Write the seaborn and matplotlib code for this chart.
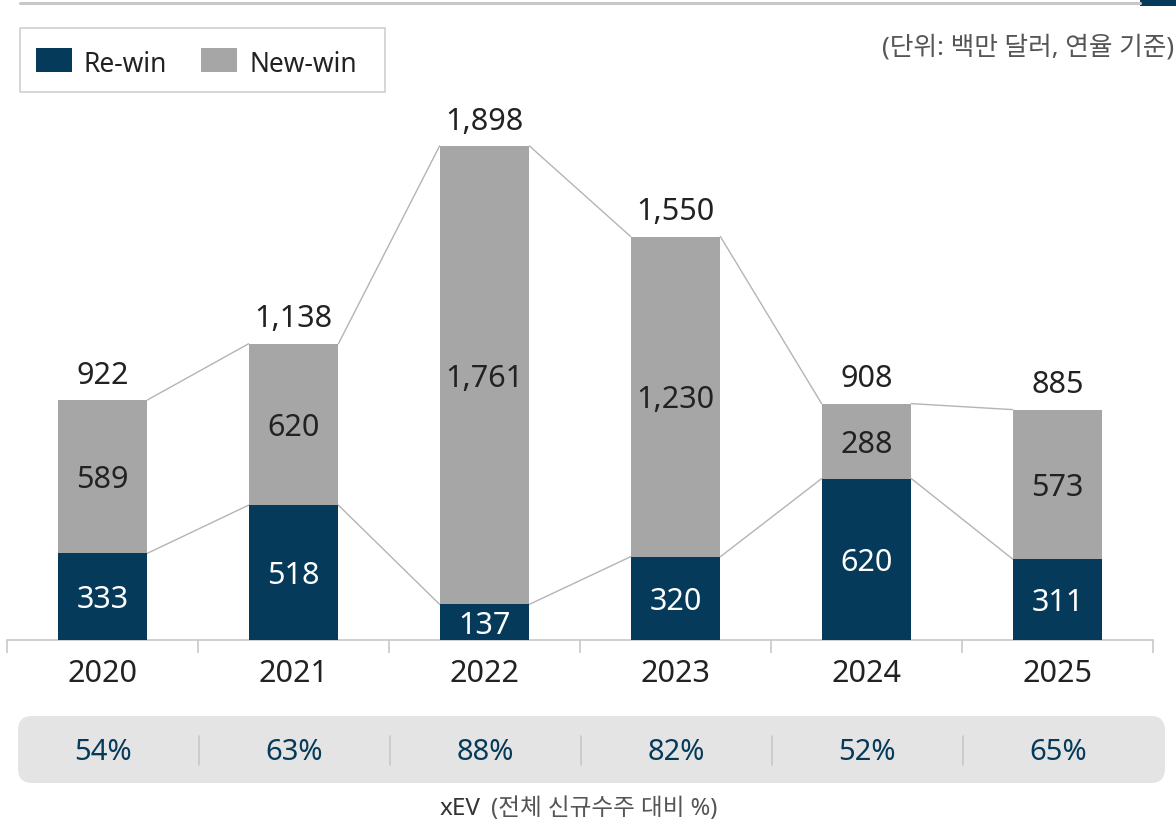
import matplotlib
matplotlib.use("Agg")
import matplotlib.pyplot as plt
from matplotlib.patches import FancyBboxPatch, Rectangle
import seaborn as sns
import pandas as pd
import numpy as np

years = ["2020", "2021", "2022", "2023", "2024", "2025"]
re_win = [333, 518, 137, 320, 620, 311]
new_win = [589, 620, 1761, 1230, 288, 573]
totals = [922, 1138, 1898, 1550, 908, 885]
xev_share = ["54%", "63%", "88%", "82%", "52%", "65%"]

NAVY = "#053A5A"
GRAY = "#A6A6A6"
LINE = "#B4B4B4"
TXT = "#222222"

sns.set_theme(style="white")
plt.rcParams['font.family'] = ['Noto Sans', 'Noto Sans CJK KR', 'DejaVu Sans']

df = pd.DataFrame({"year": years, "re": re_win, "new": new_win, "total": totals})

W, H = 1176, 823
fig = plt.figure(figsize=(W / 100, H / 100), dpi=100)
ax = fig.add_axes([7 / W, 1 - 640 / H, (1153 - 7) / W, 572.7 / H])

bw = 0.47
sns.barplot(data=df, x="year", y="total", color=GRAY, width=bw, saturation=1,
            ax=ax, linewidth=0, zorder=2)
sns.barplot(data=df, x="year", y="re", color=NAVY, width=bw, saturation=1,
            ax=ax, linewidth=0, zorder=3)

ax.set_xlim(-0.5, len(years) - 0.5)
ax.set_ylim(0, 2200)
ax.set_xlabel("")
ax.set_ylabel("")
ax.set_yticks([])
for s in ["top", "right", "left"]:
    ax.spines[s].set_visible(False)
ax.spines["bottom"].set_color("#C8C8C8")
ax.spines["bottom"].set_linewidth(1.2)
ax.set_xticks(np.arange(-0.5, len(years)), minor=True)
ax.tick_params(axis="x", which="minor", length=9, color="#C8C8C8", width=1.2, bottom=True)
ax.tick_params(axis="x", which="major", length=0, labelsize=22, labelcolor=TXT, pad=14)

# connector lines
x = np.arange(len(years))
for i in range(len(years) - 1):
    ax.plot([x[i] + bw / 2, x[i + 1] - bw / 2], [totals[i], totals[i + 1]],
            color=LINE, lw=1.0, zorder=1)
    ax.plot([x[i] + bw / 2, x[i + 1] - bw / 2], [re_win[i], re_win[i + 1]],
            color=LINE, lw=1.0, zorder=1)

FS = 22
for i in range(len(years)):
    ax.text(x[i], re_win[i] / 2, f"{re_win[i]:,}", ha="center", va="center_baseline",
            color="white", fontsize=FS, zorder=5)
    ax.text(x[i], re_win[i] + new_win[i] / 2, f"{new_win[i]:,}", ha="center",
            va="center_baseline", color=TXT, fontsize=FS, zorder=5)
    ax.annotate(f"{totals[i]:,}", (x[i], totals[i]), xytext=(0, 20),
                textcoords="offset points", ha="center", va="center_baseline",
                color=TXT, fontsize=FS, zorder=5)

# top rule
fig.add_artist(plt.Line2D([20 / W, 1140 / W], [1 - 3 / H, 1 - 3 / H],
                          color="#C8C8C8", lw=2.2, transform=fig.transFigure))
fig.add_artist(Rectangle((1140 / W, 1 - 6 / H), 36 / W, 6 / H, color=NAVY,
                         transform=fig.transFigure, lw=0))

# legend box
fig.add_artist(Rectangle((20 / W, 1 - 92 / H), 365 / W, 64 / H, facecolor="white",
                         edgecolor="#D0D0D0", lw=1.2, transform=fig.transFigure))
fig.add_artist(Rectangle((36 / W, 1 - 72 / H), 36 / W, 24 / H, color=NAVY, lw=0,
                         transform=fig.transFigure))
fig.text(84 / W, 1 - 61 / H, "Re-win", fontsize=19, color=TXT, va="center_baseline", ha="left")
fig.add_artist(Rectangle((201 / W, 1 - 72 / H), 36 / W, 24 / H, color=GRAY, lw=0,
                         transform=fig.transFigure))
fig.text(250 / W, 1 - 61 / H, "New-win", fontsize=19, color=TXT, va="center_baseline", ha="left")

# unit text
fig.text(1174 / W, 1 - 48 / H, "(단위: 백만 달러, 연율 기준)", fontsize=18.5,
         color="#555555", ha="right", va="center")

# percent band
fig.add_artist(FancyBboxPatch((18 / W, 1 - 783 / H), 1147 / W, 67 / H,
                              boxstyle="round,pad=0,rounding_size=0.012",
                              facecolor="#E4E4E4", edgecolor="none",
                              transform=fig.transFigure, mutation_aspect=W / H))
centers_px = [103 + 191 * i for i in range(len(years))]
for i, c in enumerate(centers_px):
    fig.text(c / W, 1 - 749 / H, xev_share[i], fontsize=21, color=NAVY,
             ha="center", va="center_baseline")
    if i > 0:
        xs = (c - 95.5) / W
        fig.add_artist(plt.Line2D([xs, xs], [1 - 736 / H, 1 - 765 / H],
                                  color="#C8C8C8", lw=1.2, transform=fig.transFigure))

# caption
fig.text(481 / W, 1 - 806 / H, "xEV", fontsize=17.5, color="#333333", ha="right",
         va="center_baseline")
fig.text(491 / W, 1 - 806 / H, "(전체 신규수주 대비 %)", fontsize=17, color="#555555",
         ha="left", va="center_baseline")

fig.savefig("out.png", dpi=100)
